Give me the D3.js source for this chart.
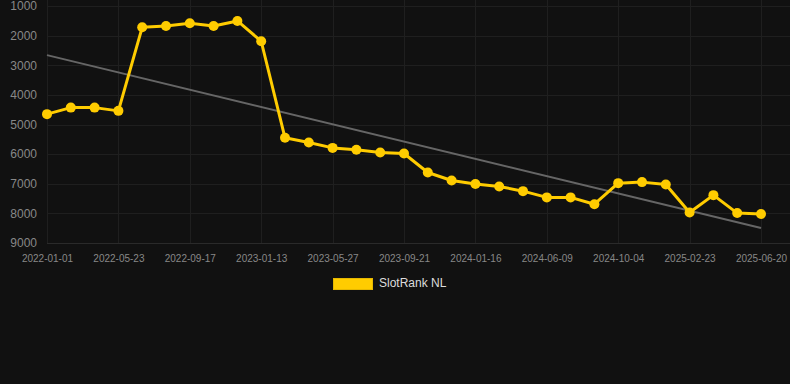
<!DOCTYPE html>
<html><head><meta charset="utf-8">
<script src="https://cdn.jsdelivr.net/npm/d3@7"></script>
<style>html,body{margin:0;padding:0;background:#111111;}svg{display:block;}</style>
</head><body>
<svg id="c" width="790" height="384"></svg>
<script>
const dates = ["2022-01-01","2022-02-17","2022-04-05","2022-05-23","2022-06-30","2022-08-08","2022-09-17","2022-10-26","2022-12-04","2023-01-13","2023-02-26","2023-04-12","2023-05-27","2023-07-05","2023-08-13","2023-09-21","2023-11-01","2023-12-09","2024-01-16","2024-03-02","2024-04-20","2024-06-09","2024-07-17","2024-08-26","2024-10-04","2024-11-21","2025-01-07","2025-02-23","2025-04-01","2025-05-11","2025-06-20"];
const ranks = [4650,4430,4430,4540,1720,1675,1585,1675,1505,2190,5450,5610,5790,5855,5945,5980,6620,6890,7010,7090,7250,7460,7460,7690,6980,6945,7025,7970,7385,7990,8020];
const yTicks = [1000,2000,3000,4000,5000,6000,7000,8000,9000];
const seriesName = "SlotRank NL";

const svg = d3.select("#c");
const mLeft = 47, mRight = 761, mTop = 6, mBottom = 243;

const x = d3.scalePoint().domain(dates).range([mLeft, mRight]);
const y = d3.scaleLinear().domain([1000, 9000]).range([mTop, mBottom]);

const tickDates = dates.filter((d, i) => i % 3 === 0);

// grid
const g = svg.append("g");
g.selectAll("line.h").data(yTicks).enter().append("line")
  .attr("x1", mLeft).attr("x2", 790)
  .attr("y1", d => Math.round(y(d)) + 0.5).attr("y2", d => Math.round(y(d)) + 0.5)
  .attr("stroke", d => d === 9000 ? "#2a2a2a" : "#1f1f1f").attr("stroke-width", 1);
g.selectAll("line.v").data(tickDates).enter().append("line")
  .attr("x1", d => Math.round(x(d)) + 0.5).attr("x2", d => Math.round(x(d)) + 0.5)
  .attr("y1", 0).attr("y2", mBottom)
  .attr("stroke", "#1f1f1f").attr("stroke-width", 1);

// y axis labels
const yAxis = d3.axisLeft(y).tickValues(yTicks).tickSize(0).tickPadding(0).tickFormat(d3.format("d"));
const ya = svg.append("g").attr("transform", `translate(37,0)`).call(yAxis);
ya.select(".domain").remove();
ya.selectAll("text").attr("fill", "#888").attr("font-family", "Arial, 'Liberation Sans', sans-serif").attr("font-size", "12px");

// x axis labels
const xAxis = d3.axisBottom(x).tickValues(tickDates).tickSize(0).tickPadding(0);
const xa = svg.append("g").attr("transform", `translate(0,${mBottom + 12})`).call(xAxis);
xa.select(".domain").remove();
xa.selectAll("text").attr("fill", "#888").attr("font-family", "Arial, 'Liberation Sans', sans-serif").attr("font-size", "10px");

// trend line (least squares on index)
const n = ranks.length;
const mx = d3.mean(ranks, (d, i) => i), my = d3.mean(ranks);
let sxy = 0, sxx = 0;
ranks.forEach((v, i) => { sxy += (i - mx) * (v - my); sxx += (i - mx) * (i - mx); });
const slope = sxy / sxx, icpt = my - slope * mx;
svg.append("line")
  .attr("x1", x(dates[0])).attr("y1", y(icpt))
  .attr("x2", x(dates[n - 1])).attr("y2", y(icpt + slope * (n - 1)))
  .attr("stroke", "#666").attr("stroke-width", 2);

// series line
const line = d3.line().x((d, i) => x(dates[i])).y(d => y(d));
svg.append("path").datum(ranks).attr("d", line)
  .attr("fill", "none").attr("stroke", "#ffcc00").attr("stroke-width", 3).attr("stroke-linejoin", "round");
svg.selectAll("circle.p").data(ranks).enter().append("circle")
  .attr("cx", (d, i) => x(dates[i])).attr("cy", d => y(d)).attr("r", 5)
  .attr("fill", "#ffcc00");

// legend
svg.append("rect").attr("x", 333.5).attr("y", 278.5).attr("width", 39).attr("height", 11)
  .attr("fill", "#ffcc00").attr("stroke", "#e6b800").attr("stroke-width", 1);
svg.append("text").attr("x", 379).attr("y", 284).attr("dominant-baseline", "middle")
  .attr("fill", "#dddddd").attr("font-family", "Arial, 'Liberation Sans', sans-serif").attr("font-size", "12px")
  .text(seriesName);
</script>
</body></html>
